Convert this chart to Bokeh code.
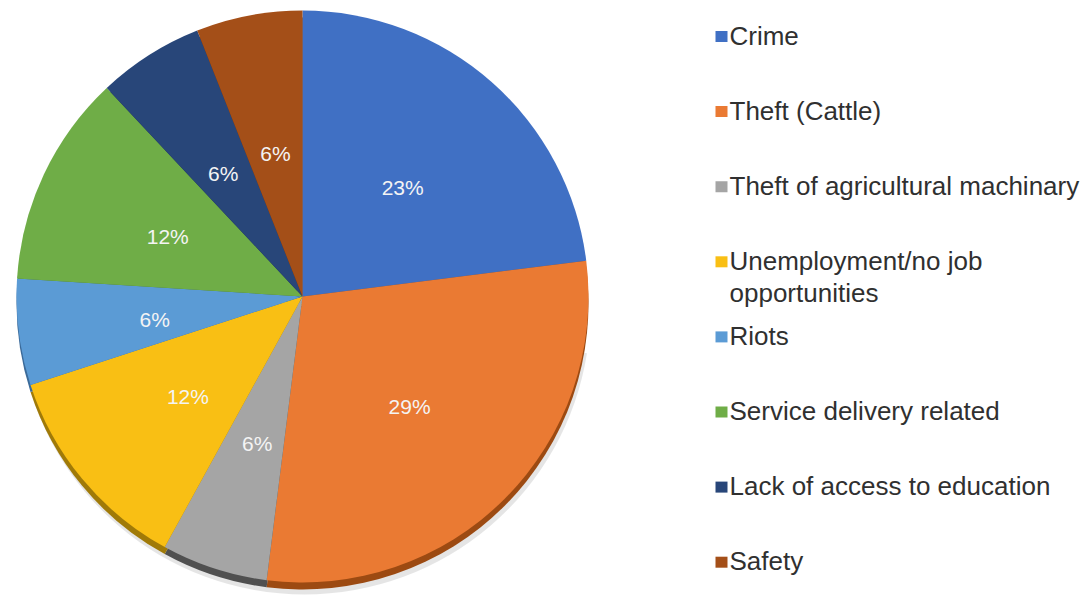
import numpy as np
from bokeh.plotting import figure
from bokeh.models import ColumnDataSource
from bokeh.core.properties import value
from bokeh.embed import file_html
from bokeh.resources import INLINE

# ---- data ----
categories = ["Crime", "Theft (Cattle)", "Theft of agricultural machinary",
              "Unemployment/no job\nopportunities", "Riots",
              "Service delivery related", "Lack of access to education", "Safety"]
values = [23, 29, 6, 12, 6, 12, 6, 6]
pct_labels = ["23%", "29%", "6%", "12%", "6%", "12%", "6%", "6%"]
colors = ["#4070C4", "#EA7A33", "#A5A5A5", "#F9BF14", "#5B9BD5", "#6FAD47", "#284679", "#A44F18"]
rim_colors = ["#2A4A85", "#9C4A12", "#505050", "#A07A08", "#3B6A99", "#4A7530", "#18294A", "#6A3010"]

W, H = 1090, 596
CX, CY = 302, H - 296
R = 286
LR = 150

vals = np.array(values, dtype=float)
frac = vals / vals.sum()
cum_end = np.cumsum(frac) * 2 * np.pi
cum_start = cum_end - frac * 2 * np.pi
start = np.pi / 2 - cum_start
end = np.pi / 2 - cum_end
mid = (start + end) / 2

src = ColumnDataSource(dict(start=start, end=end, color=colors, rim=rim_colors,
                            lx=CX + 1 + LR * np.cos(mid), ly=CY - 4 + LR * np.sin(mid),
                            pct=pct_labels))

p = figure(width=W, height=H, x_range=(0, W), y_range=(0, H),
           x_axis_type=None, y_axis_type=None, toolbar_location=None,
           output_backend="svg", min_border=0, outline_line_color=None,
           background_fill_color="white", border_fill_color="white")
p.grid.visible = False

# soft shadow + rim
p.wedge(x=CX + 2, y=CY - 12, radius=R, start_angle=np.pi * 1.05, end_angle=np.pi * 1.95,
        direction="anticlock", fill_color="#000000", fill_alpha=0.10, line_color=None)
p.wedge(x=CX, y=CY - 7, radius=R, start_angle="start", end_angle="end", direction="clock",
        fill_color="rim", line_color=None, source=src)
# main pie
p.wedge(x=CX, y=CY, radius=R, start_angle="start", end_angle="end", direction="clock",
        fill_color="color", line_color=None, source=src)

p.text(x="lx", y="ly", text="pct", source=src, text_color="#F4F4F4",
       text_font=value("Liberation Sans"), text_font_size="21px",
       text_align="center", text_baseline="middle")

# legend
n = len(categories)
row_y = H - (36 + 75.1 * np.arange(n))
leg = ColumnDataSource(dict(x=[721] * n, y=row_y, ty=row_y + 16, tx=[729] * n,
                            label=categories, color=colors))
p.rect(x="x", y="y", width=12, height=11, fill_color="color", line_color=None, source=leg)
p.text(x="tx", y="ty", text="label", source=leg, text_color="#303030",
       text_font=value("Liberation Sans"), text_font_size="26px",
       text_align="left", text_baseline="top", text_line_height=1.07)

open("out.html", "w").write(file_html(p, INLINE))
